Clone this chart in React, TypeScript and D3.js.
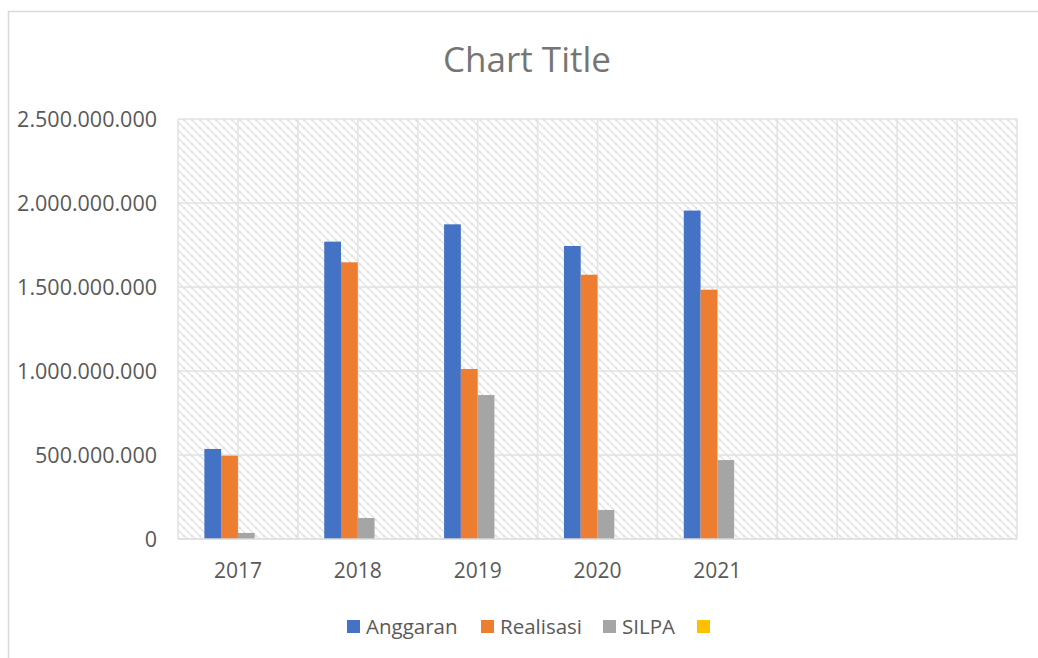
import React, { useEffect, useRef } from 'react';
import * as d3 from 'd3';

// categories (the last two slots are empty in the source sheet)
const categories = ['2017', '2018', '2019', '2020', '2021', '', ''];
const seriesNames = ['Anggaran', 'Realisasi', 'SILPA', ''];
const anggaran = [536000000, 1770000000, 1873000000, 1744000000, 1955000000, null, null];
const realisasi = [496000000, 1647000000, 1012000000, 1573000000, 1484000000, null, null];
const silpa = [36000000, 125000000, 857000000, 173000000, 470000000, null, null];
const kosong = [0, 0, 0, 0, 0, null, null];
const yTicks = [0, 500000000, 1000000000, 1500000000, 2000000000, 2500000000];

const colors = ['#4472C4', '#ED7D31', '#A5A5A5', '#FFC000'];

const App = () => {
  const ref = useRef(null);

  useEffect(() => {
    const width = 1038;
    const height = 658;
    const margin = { top: 119, right: 21, bottom: 119, left: 178 };
    const font = '"Open Sans", "Liberation Sans", sans-serif';

    d3.select(ref.current).selectAll('*').remove();
    const svg = d3.select(ref.current);

    const locale = d3.formatLocale({ decimal: ',', thousands: '.', grouping: [3], currency: ['', ''] });
    const fmt = locale.format(',');

    // chart area border
    svg.append('rect')
      .attr('x', 8.5)
      .attr('y', 11.5)
      .attr('width', width + 20)
      .attr('height', height + 20)
      .attr('fill', '#fff')
      .attr('stroke', '#d9d9d9')
      .attr('stroke-width', 1.5);

    // hatch pattern for plot area
    const defs = svg.append('defs');
    const pat = defs.append('pattern')
      .attr('id', 'hatch')
      .attr('patternUnits', 'userSpaceOnUse')
      .attr('width', 8)
      .attr('height', 8);
    pat.append('rect').attr('width', 8).attr('height', 8).attr('fill', '#fff');
    pat.append('path')
      .attr('d', 'M0,0 L8,8 M-4,4 L4,12 M4,-4 L12,4')
      .attr('stroke', '#dcdcdc')
      .attr('stroke-width', 2)
      .attr('stroke-dasharray', '1.5,1');

    const x0 = d3.scaleBand()
      .domain(categories.map((d, i) => String(i)))
      .range([margin.left, width - margin.right])
      .paddingInner(0)
      .paddingOuter(0);

    const groupW = x0.bandwidth() * 0.56;
    const x1 = d3.scaleBand()
      .domain(seriesNames.map((d, i) => String(i)))
      .range([0, groupW]);

    const yScale = d3.scaleLinear()
      .domain([0, 2500000000])
      .range([height - margin.bottom, margin.top]);

    svg.append('rect')
      .attr('x', margin.left)
      .attr('y', margin.top)
      .attr('width', width - margin.right - margin.left)
      .attr('height', height - margin.bottom - margin.top)
      .attr('fill', 'url(#hatch)');

    // gridlines
    const grid = svg.append('g');
    grid.selectAll('.h')
      .data(yTicks.slice(1))
      .enter()
      .append('line')
      .attr('x1', margin.left)
      .attr('x2', width - margin.right)
      .attr('y1', d => yScale(d))
      .attr('y2', d => yScale(d))
      .attr('stroke', '#e2e2e2')
      .attr('stroke-width', 1.5);

    const halfSteps = d3.range(categories.length * 2 + 1);
    grid.selectAll('.v')
      .data(halfSteps)
      .enter()
      .append('line')
      .attr('x1', d => margin.left + d * x0.bandwidth() / 2)
      .attr('x2', d => margin.left + d * x0.bandwidth() / 2)
      .attr('y1', margin.top)
      .attr('y2', yScale(0))
      .attr('stroke', '#e2e2e2')
      .attr('stroke-width', 1.5);

    // bars
    const allSeries = [anggaran, realisasi, silpa, kosong];
    allSeries.forEach((vals, s) => {
      svg.append('g')
        .selectAll('rect')
        .data(vals.map((v, i) => ({ v, i })).filter(d => d.v != null && d.v > 0))
        .enter()
        .append('rect')
        .attr('x', d => x0(String(d.i)) + (x0.bandwidth() - groupW) / 2 + x1(String(s)))
        .attr('y', d => yScale(d.v))
        .attr('width', x1.bandwidth())
        .attr('height', d => yScale(0) - yScale(d.v))
        .attr('fill', colors[s]);
    });

    // x axis line
    svg.append('line')
      .attr('x1', margin.left)
      .attr('x2', width - margin.right)
      .attr('y1', yScale(0))
      .attr('y2', yScale(0))
      .attr('stroke', '#d9d9d9')
      .attr('stroke-width', 1.5);

    // y tick labels
    svg.append('g')
      .selectAll('text')
      .data(yTicks)
      .enter()
      .append('text')
      .attr('x', 157)
      .attr('y', d => yScale(d))
      .attr('dy', '0.35em')
      .attr('text-anchor', 'end')
      .style('font-family', font)
      .style('font-size', '21.5px')
      .style('fill', '#595959')
      .text(d => fmt(d));

    // category labels
    svg.append('g')
      .selectAll('text')
      .data(categories)
      .enter()
      .append('text')
      .attr('x', (d, i) => x0(String(i)) + x0.bandwidth() / 2)
      .attr('y', 571)
      .attr('dy', '0.35em')
      .attr('text-anchor', 'middle')
      .style('font-family', font)
      .style('font-size', '21px')
      .style('fill', '#595959')
      .text(d => d);

    // title
    svg.append('text')
      .attr('x', 527)
      .attr('y', 60)
      .attr('dy', '0.35em')
      .attr('text-anchor', 'middle')
      .style('font-family', font)
      .style('font-size', '35px')
      .style('fill', '#757575')
      .text('Chart Title');

    // legend
    const legendX = [347, 481, 603, 697];
    const legend = svg.append('g');
    seriesNames.forEach((name, s) => {
      legend.append('rect')
        .attr('x', legendX[s])
        .attr('y', 620)
        .attr('width', 13)
        .attr('height', 13)
        .attr('fill', colors[s]);
      legend.append('text')
        .attr('x', legendX[s] + 19)
        .attr('y', 627)
        .attr('dy', '0.35em')
        .style('font-family', font)
        .style('font-size', '20.5px')
        .style('fill', '#595959')
        .text(name);
    });
  }, []);

  return (
    <svg ref={ref} width={1038} height={658} style={{ position: 'absolute', left: 0, top: 0 }}></svg>
  );
};

export default App;
